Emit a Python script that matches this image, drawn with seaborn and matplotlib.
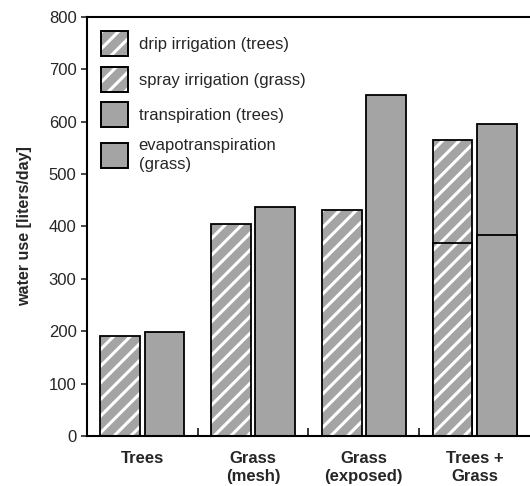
import pandas as pd
import matplotlib.pyplot as plt
import matplotlib.patches as mpatches
import seaborn as sns

# data (liters/day)
categories = ["Trees", "Grass\n(mesh)", "Grass\n(exposed)", "Trees +\nGrass"]
irrigation = [191, 405, 431, 565]           # drip (trees) / spray (grass), total
evapotranspiration = [198, 437, 652, 595]    # transpiration (trees) / ET (grass), total
# lower part of the stacked "Trees + Grass" bars (grass share)
mixed_category = "Trees +\nGrass"
mixed_irrigation_grass = 368
mixed_et_grass = 383

legend_labels = ["drip irrigation (trees)", "spray irrigation (grass)",
                 "transpiration (trees)", "evapotranspiration\n(grass)"]

sns.set_style("ticks")
plt.rcParams['font.family'] = ['Liberation Sans', 'DejaVu Sans']
plt.rcParams['hatch.linewidth'] = 2.2

gray = "#a4a4a4"

df = pd.DataFrame({
    "category": categories * 2,
    "kind": ["irrigation"] * 4 + ["et"] * 4,
    "value": irrigation + evapotranspiration,
})
df_low = pd.DataFrame({
    "category": [mixed_category] * 2,
    "kind": ["irrigation", "et"],
    "value": [mixed_irrigation_grass, mixed_et_grass],
})

fig = plt.figure(figsize=(5.3, 4.86), dpi=100)
ax = fig.add_axes([0.164, 0.103, 0.836, 0.862])

sns.barplot(data=df, x="category", y="value", hue="kind", order=categories,
            hue_order=["irrigation", "et"], palette=[gray, gray], width=0.8,
            gap=0.1, edgecolor="black", linewidth=1.3, legend=False, ax=ax)
sns.barplot(data=df_low, x="category", y="value", hue="kind", order=categories,
            hue_order=["irrigation", "et"], palette=[gray, gray], width=0.8,
            gap=0.1, edgecolor="black", linewidth=1.3, legend=False, ax=ax)


def white_hatch(p):
    if hasattr(p, "set_hatchcolor"):
        p.set_hatchcolor("white")
    else:
        p._hatch_color = (1, 1, 1, 1)


# containers: 0,2 -> irrigation, 1,3 -> ET
for i, cont in enumerate(ax.containers):
    if i % 2 == 0:
        for p in cont:
            p.set_hatch("//")
            white_hatch(p)

ax.set_xlim(-0.5, 3.5)
ax.set_ylim(0, 800)
ax.set_yticks(range(0, 801, 100))
ax.set_xlabel("")
ax.set_ylabel("water use [liters/day]", fontsize=11.5, fontweight="bold", labelpad=12)

ax.set_xticks(range(4))
ax.set_xticklabels(categories, fontsize=12, fontweight="bold", linespacing=1.2)
ax.set_xticks([0.5, 1.5, 2.5], minor=True)
ax.tick_params(axis="x", which="major", length=0, pad=11)
ax.tick_params(axis="x", which="minor", direction="in", length=6, width=1.3)
ax.tick_params(axis="y", which="major", direction="out", length=4.5, width=1.2,
               labelsize=12, pad=3)

for s in ["left", "bottom", "top"]:
    ax.spines[s].set_linewidth(1.5)
    ax.spines[s].set_color("black")
ax.spines["right"].set_visible(False)

handles = []
for j, lab in enumerate(legend_labels):
    h = mpatches.Patch(facecolor=gray, edgecolor="black", linewidth=1.4,
                       hatch="//" if j < 2 else None, label=lab)
    if j < 2:
        white_hatch(h)
    handles.append(h)

leg = ax.legend(handles=handles, loc="upper left", bbox_to_anchor=(0, 1),
                borderaxespad=0, borderpad=0.85, frameon=False, fontsize=12,
                handlelength=1.6, handleheight=1.95, handletextpad=0.65,
                labelspacing=0.62)
for t in leg.get_texts():
    t.set_linespacing(1.35)

fig.savefig("out.png", dpi=100)
